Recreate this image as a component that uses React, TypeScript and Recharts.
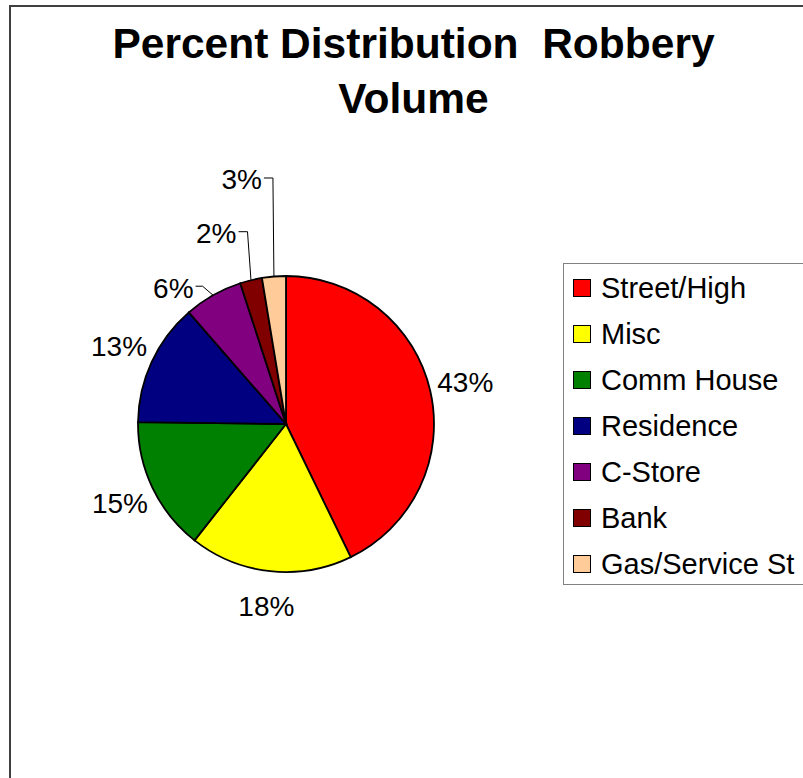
import React from 'react';
import { PieChart, Pie, Cell, Legend } from 'recharts';

const categories = ['Street/High', 'Misc', 'Comm House', 'Residence', 'C-Store', 'Bank', 'Gas/Service St'];
const percents = [42.8, 17.8, 14.6, 13.4, 6.4, 2.4, 2.6];
const colors = ['#FF0000', '#FFFF00', '#008000', '#000080', '#800080', '#800000', '#FFCC99'];
const titleLines = ['Percent Distribution  Robbery', 'Volume'];

const data = categories.map((name, i) => ({ name, value: percents[i] }));

const FONT = '"Liberation Sans", Arial, sans-serif';
const RAD = Math.PI / 180;

// leader-line layout for small slices: elbow offset from slice edge, gap to text end
const LEADER: Record<number, { ex: number; ey: number; gap: number }> = {
  4: { ex: -10.5, ey: -9, gap: 9 },
  5: { ex: -3.5, ey: -48.5, gap: 11 },
  6: { ex: -1, ey: -98.5, gap: 11 },
};

const renderLabel = (props: any) => {
  const { cx, cy, midAngle, outerRadius, index, value } = props;
  const text = `${Math.round(value)}%`;
  const lead = LEADER[index];
  if (lead) {
    const px = cx + outerRadius * Math.cos(-midAngle * RAD);
    const py = cy + outerRadius * Math.sin(-midAngle * RAD);
    const exX = px + lead.ex;
    const exY = py + lead.ey;
    const tx = exX - lead.gap;
    return (
      <g key={`lbl-${index}`}>
        <polyline
          points={`${px},${py} ${exX},${exY} ${tx + 2},${exY}`}
          fill="none"
          stroke="#000"
          strokeWidth={1}
        />
        <text x={tx} y={exY + 2} textAnchor="end" dominantBaseline="central" fontFamily={FONT} fontSize={28} fill="#000">
          {text}
        </text>
      </g>
    );
  }
  const r = outerRadius + 36;
  const x = cx + r * Math.cos(-midAngle * RAD);
  const y = cy + r * Math.sin(-midAngle * RAD);
  return (
    <text key={`lbl-${index}`} x={x} y={y} textAnchor="middle" dominantBaseline="central" fontFamily={FONT} fontSize={28} fill="#000">
      {text}
    </text>
  );
};

const LegendBox = () => {
  return (
    <div
      style={{
        border: '1.5px solid #808080',
        width: 245,
        height: 322,
        boxSizing: 'border-box',
        paddingTop: 1,
        background: '#fff',
      }}
    >
      {categories.map((c, i) => (
        <div key={c} style={{ display: 'flex', alignItems: 'center', height: 46, paddingLeft: 9 }}>
          <div
            style={{
              width: 18,
              height: 18,
              boxSizing: 'border-box',
              border: '1.5px solid #000',
              background: colors[i],
              marginRight: 10,
            }}
          />
          <span style={{ fontFamily: FONT, fontSize: 29, color: '#000', whiteSpace: 'nowrap' }}>{c}</span>
        </div>
      ))}
    </div>
  );
};

export default function App() {
  return (
    <div style={{ position: 'absolute', left: 0, top: 0, width: 803, height: 778, overflow: 'hidden', background: '#fff' }}>
      <div
        style={{
          position: 'absolute',
          left: 9,
          top: 5,
          width: 1000,
          height: 1000,
          borderLeft: '2px solid #404040',
          borderTop: '2px solid #404040',
        }}
      />
      <div
        style={{
          position: 'absolute',
          left: 0,
          top: 16,
          width: 827,
          textAlign: 'center',
          fontFamily: FONT,
          fontWeight: 'bold',
          fontSize: 42.5,
          lineHeight: '55px',
          color: '#000',
          whiteSpace: 'pre',
        }}
      >
        {titleLines.map((t, i) => (
          <div key={i}>{t}</div>
        ))}
      </div>
      <div style={{ position: 'absolute', left: 0, top: 0 }}>
        <PieChart width={803} height={778}>
          <Pie
            data={data}
            dataKey="value"
            nameKey="name"
            cx={281}
            cy={419}
            outerRadius={148}
            startAngle={90}
            endAngle={-270}
            stroke="#000"
            strokeWidth={1.8}
            label={renderLabel}
            labelLine={false}
            isAnimationActive={false}
          >
            {data.map((d, i) => (
              <Cell key={d.name} fill={colors[i]} />
            ))}
          </Pie>
          <Legend
            layout="vertical"
            align="right"
            verticalAlign="top"
            content={<LegendBox />}
            wrapperStyle={{ position: 'absolute', left: 563, top: 263, width: 245, height: 322 }}
          />
        </PieChart>
      </div>
    </div>
  );
}
